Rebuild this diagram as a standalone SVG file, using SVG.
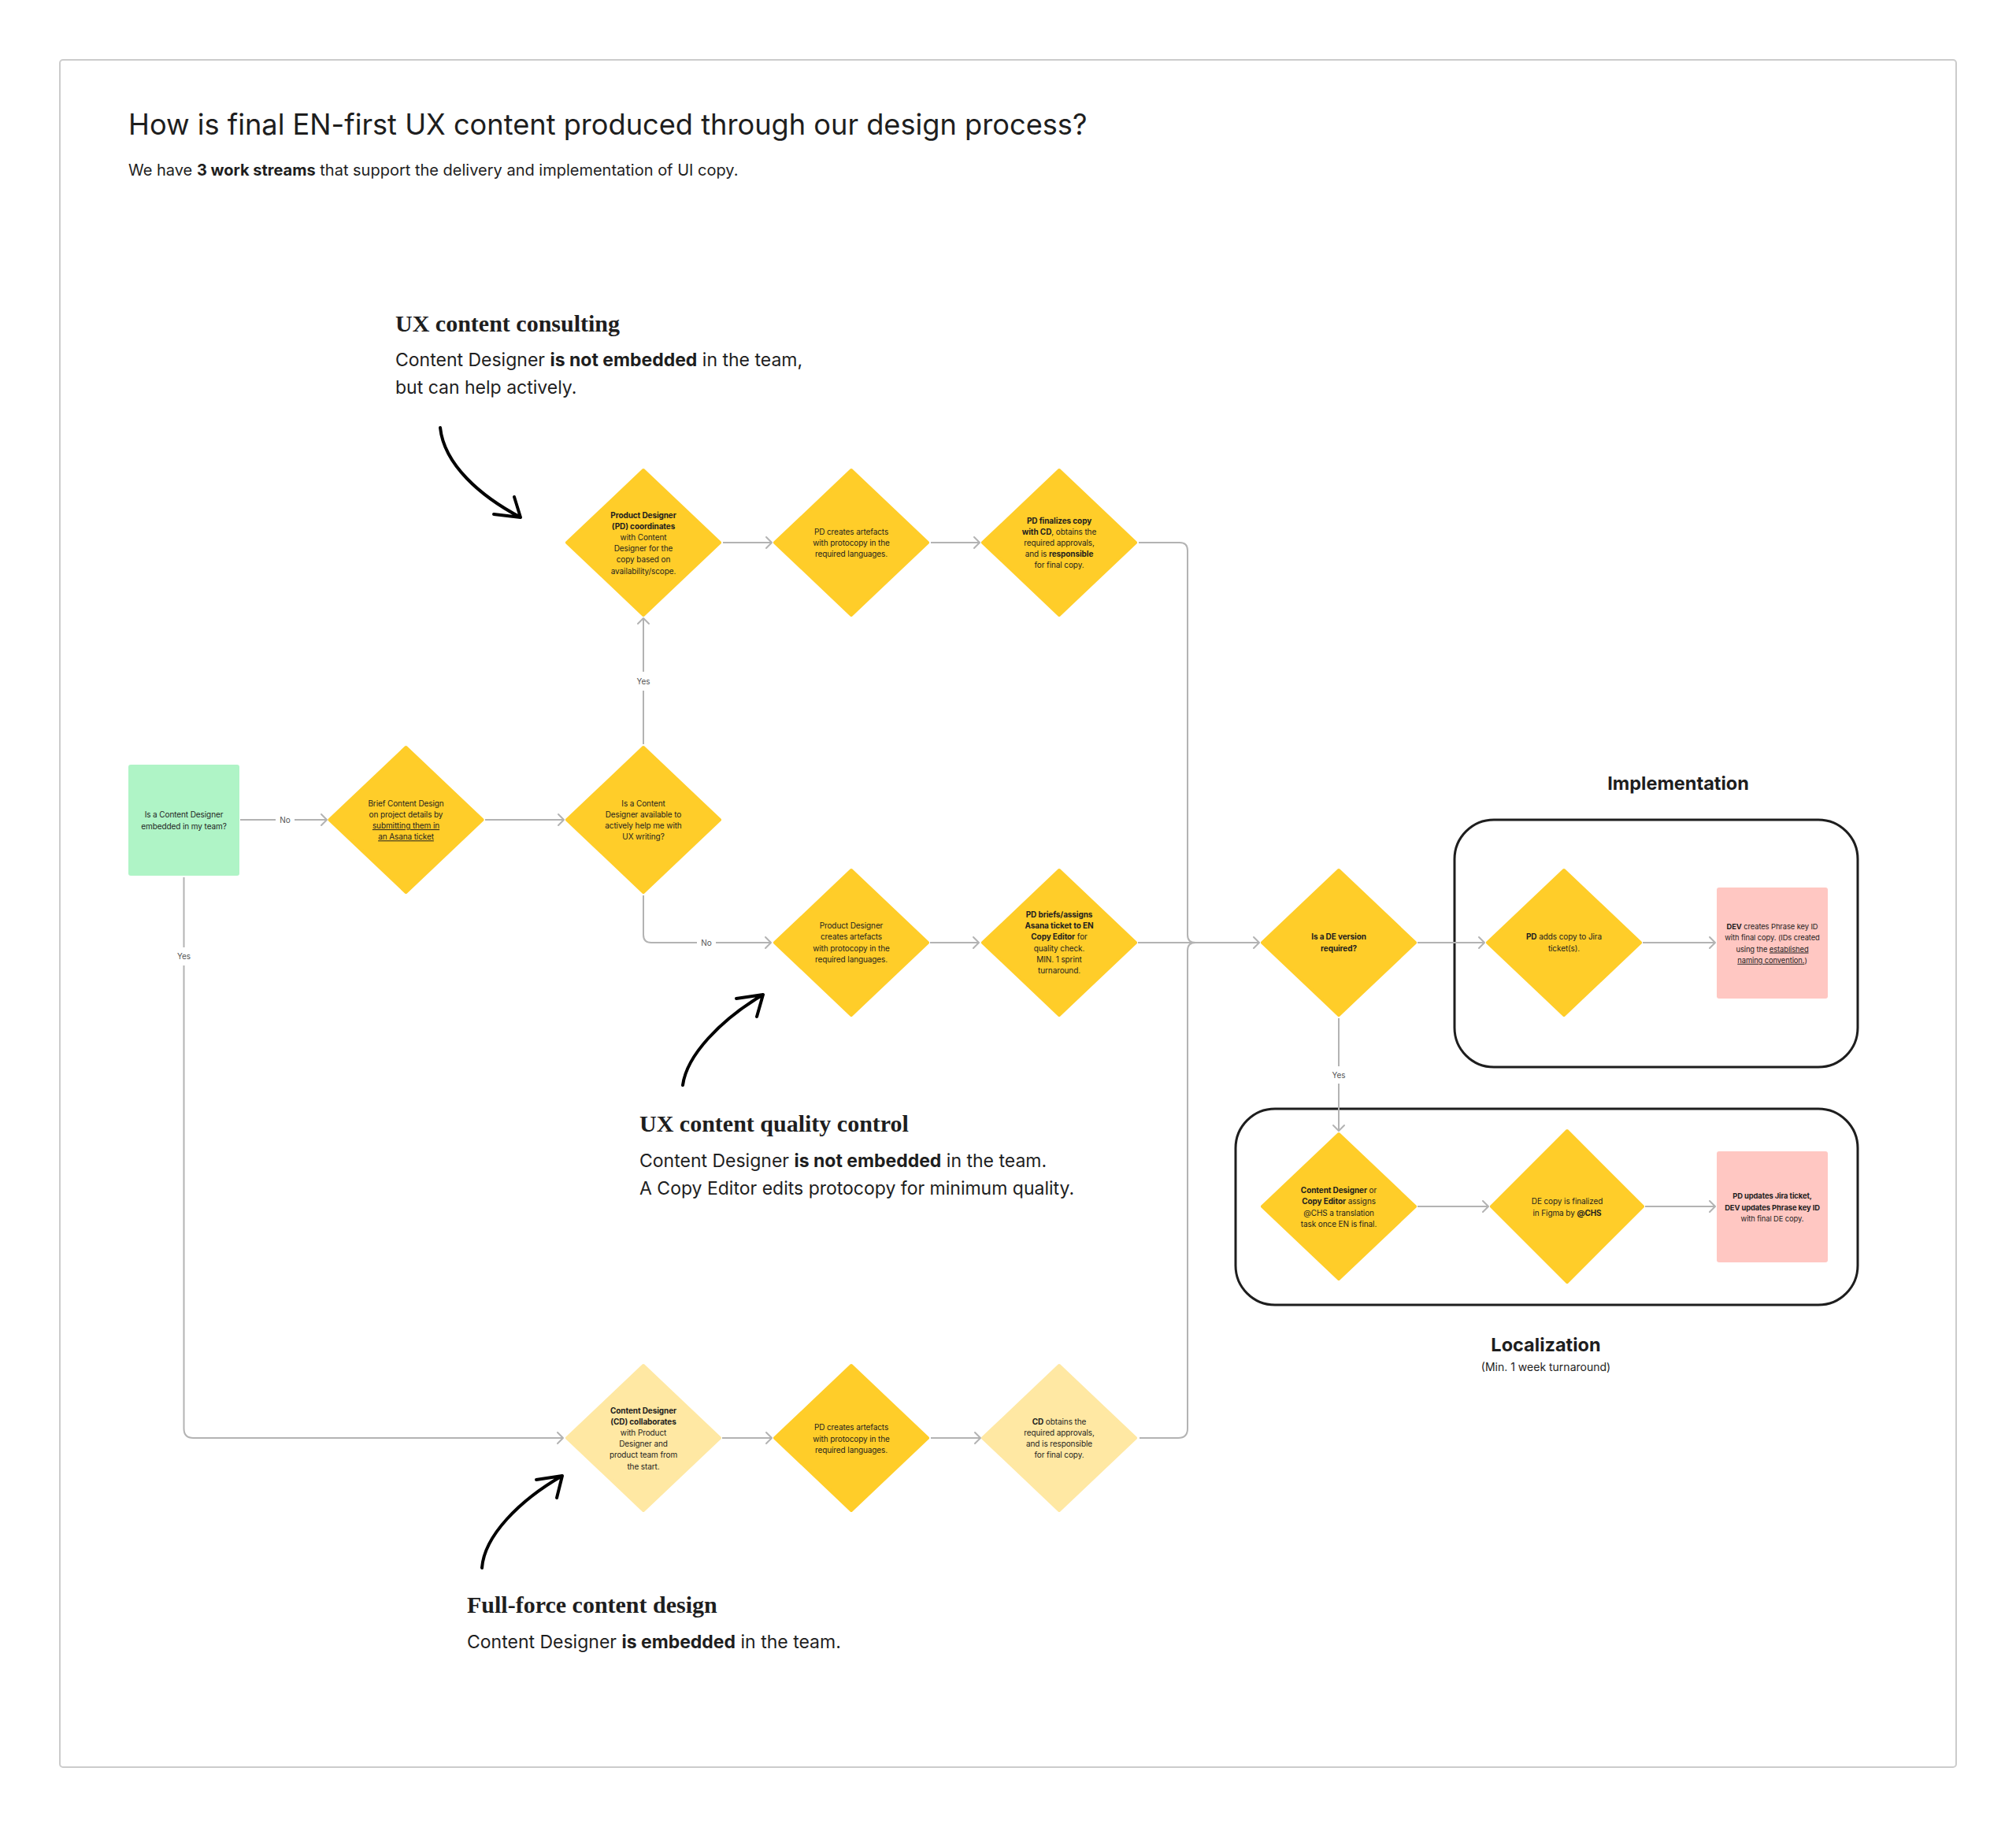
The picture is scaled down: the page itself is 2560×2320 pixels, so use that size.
<svg xmlns="http://www.w3.org/2000/svg" width="2560" height="2320" viewBox="0 0 2560 2320">
<style>
.y{fill:#FFCD29;stroke:#FFCD29;stroke-width:4;stroke-linejoin:round}
.ly{fill:#FFE8A3;stroke:#FFE8A3;stroke-width:4;stroke-linejoin:round}
.t{font-family:Inter,"Noto Sans","Liberation Sans",sans-serif;font-size:10px;letter-spacing:-0.1px;fill:#1E1E1E;text-anchor:middle}
.p{font-size:9.4px}
.b{font-weight:700}
.u{text-decoration:underline}
.c{fill:none;stroke:#B3B3B3;stroke-width:2}
.lbl{font-family:Inter,"Noto Sans","Liberation Sans",sans-serif;font-size:10px;fill:#555;text-anchor:middle}
.hand{fill:none;stroke:#000;stroke-width:4;stroke-linecap:round;stroke-linejoin:round}
.h{font-family:"Liberation Serif","DejaVu Serif",serif;font-weight:700;font-size:30px;fill:#1E1E1E}
.body{font-family:Inter,"Noto Sans","Liberation Sans",sans-serif;font-size:23px;fill:#1E1E1E}
.sec{font-family:Inter,"Noto Sans","Liberation Sans",sans-serif;font-size:23.5px;font-weight:700;fill:#1E1E1E;text-anchor:middle}
.box{fill:none;stroke:#1E1E1E;stroke-width:3}
</style>
<defs>
<polygon id="dia" points="0,-92 97,0 0,92 -97,0"/>
<polygon id="diaL" points="0,-96 96,0 0,96 -96,0"/>
<marker id="arr" viewBox="-10 -10 20 20" refX="0" refY="0" markerWidth="20" markerHeight="20" markerUnits="userSpaceOnUse" orient="auto">
<path d="M-7,-7 L0,0 L-7,7" fill="none" stroke="#B3B3B3" stroke-width="2" stroke-linecap="round" stroke-linejoin="round"/>
</marker>
</defs>
<rect x="0" y="0" width="2560" height="2320" fill="#FFFFFF"/>
<rect x="76" y="76" width="2408" height="2168" rx="4" fill="#FFFFFF" stroke="#CCCCCC" stroke-width="2"/>

<g id="header">
<text x="163" y="171" font-family="Inter,'Noto Sans','Liberation Sans',sans-serif" font-size="36.2" fill="#1E1E1E">How is final EN-first UX content produced through our design process?</text>
<text x="163" y="223" font-family="Inter,'Noto Sans','Liberation Sans',sans-serif" font-size="20" fill="#1E1E1E">We have <tspan font-weight="700">3 work streams</tspan> that support the delivery and implementation of UI copy.</text>
</g>

<g id="stream-consulting">
<text class="h" x="502" y="421">UX content consulting</text>
<text class="body" x="502" y="465">Content Designer <tspan font-weight="700">is not embedded</tspan> in the team,</text>
<text class="body" x="502" y="500">but can help actively.</text>
<path class="hand" d="M559,543 C564,590 610,630 661,657 M627,653 L661,657 L653,631"/>
</g>
<g id="stream-quality">
<text class="h" x="812" y="1437">UX content quality control</text>
<text class="body" x="812" y="1482">Content Designer <tspan font-weight="700">is not embedded</tspan> in the team.</text>
<text class="body" x="812" y="1517">A Copy Editor edits protocopy for minimum quality.</text>
<path class="hand" d="M867,1378 C872,1340 915,1295 969,1263 M935,1268 L969,1263 L961,1291"/>
</g>
<g id="stream-fullforce">
<text class="h" x="593" y="2048">Full-force content design</text>
<text class="body" x="593" y="2093">Content Designer <tspan font-weight="700">is embedded</tspan> in the team.</text>
<path class="hand" d="M612,1991 C615,1950 660,1905 714,1874 M681,1879 L714,1874 L707,1902"/>
</g>

<g id="implementation-group">
<text class="sec" x="2131" y="1003">Implementation</text>
<rect class="box" x="1847" y="1041" width="512" height="314" rx="50"/>
</g>
<g id="localization-group">
<rect class="box" x="1569" y="1408" width="790" height="249" rx="50"/>
<text class="sec" x="1963" y="1716">Localization</text>
<text x="1963" y="1741" font-family="Inter,'Noto Sans','Liberation Sans',sans-serif" font-size="14" fill="#1E1E1E" text-anchor="middle">(Min. 1 week turnaround)</text>
</g>

<g id="connectors">
<path class="c" d="M305,1041 H350"/>
<path class="c" d="M374,1041 H415" marker-end="url(#arr)"/>
<path class="c" d="M616,1041 H716" marker-end="url(#arr)"/>
<path class="c" d="M817,945 V877"/>
<path class="c" d="M817,853 V785" marker-end="url(#arr)"/>
<path class="c" d="M817,1137 V1187 Q817,1197 827,1197 H885"/>
<path class="c" d="M909,1197 H979" marker-end="url(#arr)"/>
<path class="c" d="M918,689 H980" marker-end="url(#arr)"/>
<path class="c" d="M1182,689 H1244" marker-end="url(#arr)"/>
<path class="c" d="M1446,689 H1498 Q1508,689 1508,699 V1187 Q1508,1197 1518,1197"/>
<path class="c" d="M1181,1197 H1243" marker-end="url(#arr)"/>
<path class="c" d="M1445,1197 H1599" marker-end="url(#arr)"/>
<path class="c" d="M233.5,1114 V1203"/>
<path class="c" d="M233.5,1226 V1814 Q233.5,1826 245.5,1826 H715" marker-end="url(#arr)"/>
<path class="c" d="M917,1826 H980" marker-end="url(#arr)"/>
<path class="c" d="M1182,1826 H1245" marker-end="url(#arr)"/>
<path class="c" d="M1447,1826 H1496 Q1508,1826 1508,1814 V1207 Q1508,1197 1518,1197"/>
<path class="c" d="M1800,1197 H1885" marker-end="url(#arr)"/>
<path class="c" d="M2086,1197 H2178" marker-end="url(#arr)"/>
<path class="c" d="M1700,1293 V1354"/>
<path class="c" d="M1700,1376 V1436" marker-end="url(#arr)"/>
<path class="c" d="M1800,1532 H1890" marker-end="url(#arr)"/>
<path class="c" d="M2089,1532 H2178" marker-end="url(#arr)"/>
<text class="lbl" x="362" y="1044.5">No</text>
<text class="lbl" x="817" y="868.5">Yes</text>
<text class="lbl" x="897" y="1200.5">No</text>
<text class="lbl" x="233.5" y="1217.5">Yes</text>
<text class="lbl" x="1700" y="1368.5">Yes</text>
</g>

<g id="n-embedded">
<rect x="163" y="971" width="141" height="141" rx="3" fill="#AFF4C6"/>
<text class="t" y="1038.4"><tspan x="233.5">Is a Content Designer</tspan><tspan x="233.5" dy="14.2">embedded in my team?</tspan></text>
</g>
<g id="n-brief">
<use href="#dia" x="515.5" y="1041" class="y"/>
<text class="t" y="1023.7"><tspan x="515.5">Brief Content Design</tspan><tspan x="515.5" dy="14.2">on project details by</tspan><tspan x="515.5" dy="14.2" class="u">submitting them in</tspan><tspan x="515.5" dy="14.2" class="u">an Asana ticket</tspan></text>
</g>
<g id="n-available">
<use href="#dia" x="817" y="1041" class="y"/>
<text class="t" y="1023.7"><tspan x="817">Is a Content</tspan><tspan x="817" dy="14.2">Designer available to</tspan><tspan x="817" dy="14.2">actively help me with</tspan><tspan x="817" dy="14.2">UX writing?</tspan></text>
</g>
<g id="n-pd-coordinates">
<use href="#dia" x="817" y="689" class="y"/>
<text class="t" y="657.5"><tspan x="817" class="b">Product Designer</tspan><tspan x="817" dy="14.2" class="b">(PD) coordinates</tspan><tspan x="817" dy="14.2">with Content</tspan><tspan x="817" dy="14.2">Designer for the</tspan><tspan x="817" dy="14.2">copy based on</tspan><tspan x="817" dy="14.2">availability/scope.</tspan></text>
</g>
<g id="n-pd-artefacts-1">
<use href="#dia" x="1081" y="689" class="y"/>
<text class="t" y="678.8"><tspan x="1081">PD creates artefacts</tspan><tspan x="1081" dy="14.2">with protocopy in the</tspan><tspan x="1081" dy="14.2">required languages.</tspan></text>
</g>
<g id="n-pd-finalizes">
<use href="#dia" x="1345" y="689" class="y"/>
<text class="t" y="664.6"><tspan x="1345" class="b">PD finalizes copy</tspan><tspan x="1345" dy="14.2"><tspan class="b">with CD</tspan>, obtains the</tspan><tspan x="1345" dy="14.2">required approvals,</tspan><tspan x="1345" dy="14.2">and is <tspan class="b">responsible</tspan></tspan><tspan x="1345" dy="14.2">for final copy.</tspan></text>
</g>
<g id="n-pd-artefacts-2">
<use href="#dia" x="1081" y="1197" class="y"/>
<text class="t" y="1179.2"><tspan x="1081">Product Designer</tspan><tspan x="1081" dy="14.2">creates artefacts</tspan><tspan x="1081" dy="14.2">with protocopy in the</tspan><tspan x="1081" dy="14.2">required languages.</tspan></text>
</g>
<g id="n-pd-briefs">
<use href="#dia" x="1345" y="1197" class="y"/>
<text class="t" y="1165"><tspan x="1345" class="b">PD briefs/assigns</tspan><tspan x="1345" dy="14.2" class="b">Asana ticket to EN</tspan><tspan x="1345" dy="14.2"><tspan class="b">Copy Editor</tspan> for</tspan><tspan x="1345" dy="14.2">quality check.</tspan><tspan x="1345" dy="14.2">MIN. 1 sprint</tspan><tspan x="1345" dy="14.2">turnaround.</tspan></text>
</g>
<g id="n-cd-collaborates">
<use href="#dia" x="817" y="1826" class="ly"/>
<text class="t" y="1794.5"><tspan x="817" class="b">Content Designer</tspan><tspan x="817" dy="14.2" class="b">(CD) collaborates</tspan><tspan x="817" dy="14.2">with Product</tspan><tspan x="817" dy="14.2">Designer and</tspan><tspan x="817" dy="14.2">product team from</tspan><tspan x="817" dy="14.2">the start.</tspan></text>
</g>
<g id="n-pd-artefacts-3">
<use href="#dia" x="1081" y="1826" class="y"/>
<text class="t" y="1816.3"><tspan x="1081">PD creates artefacts</tspan><tspan x="1081" dy="14.2">with protocopy in the</tspan><tspan x="1081" dy="14.2">required languages.</tspan></text>
</g>
<g id="n-cd-obtains">
<use href="#dia" x="1345" y="1826" class="ly"/>
<text class="t" y="1808.7"><tspan x="1345"><tspan class="b">CD</tspan> obtains the</tspan><tspan x="1345" dy="14.2">required approvals,</tspan><tspan x="1345" dy="14.2">and is responsible</tspan><tspan x="1345" dy="14.2">for final copy.</tspan></text>
</g>
<g id="n-de-required">
<use href="#dia" x="1700" y="1197" class="y"/>
<text class="t b" y="1193.4"><tspan x="1700">Is a DE version</tspan><tspan x="1700" dy="14.2">required?</tspan></text>
</g>
<g id="n-pd-jira">
<use href="#dia" x="1986" y="1197" class="y"/>
<text class="t" y="1193.4"><tspan x="1986"><tspan class="b">PD</tspan> adds copy to Jira</tspan><tspan x="1986" dy="14.2">ticket(s).</tspan></text>
</g>
<g id="n-dev-phrase">
<rect x="2180" y="1127" width="141" height="141" rx="3" fill="#FFC7C2"/>
<text class="t p" y="1180.2"><tspan x="2250.5"><tspan class="b">DEV</tspan> creates Phrase key ID</tspan><tspan x="2250.5" dy="14.2">with final copy. (IDs created</tspan><tspan x="2250.5" dy="14.2">using the <tspan class="u">established</tspan></tspan><tspan x="2250.5" dy="14.2"><tspan class="u">naming convention.</tspan>)</tspan></text>
</g>
<g id="n-cd-assigns">
<use href="#dia" x="1700" y="1532" class="y"/>
<text class="t" y="1515.2"><tspan x="1700"><tspan class="b">Content Designer</tspan> or</tspan><tspan x="1700" dy="14.2"><tspan class="b">Copy Editor</tspan> assigns</tspan><tspan x="1700" dy="14.2">@CHS a translation</tspan><tspan x="1700" dy="14.2">task once EN is final.</tspan></text>
</g>
<g id="n-de-finalized">
<use href="#diaL" x="1990" y="1532" class="y"/>
<text class="t" y="1529.4"><tspan x="1990">DE copy is finalized</tspan><tspan x="1990" dy="14.2">in Figma by <tspan class="b">@CHS</tspan></tspan></text>
</g>
<g id="n-pd-updates">
<rect x="2180" y="1462" width="141" height="141" rx="3" fill="#FFC7C2"/>
<text class="t p" y="1522.3"><tspan x="2250.5" class="b">PD updates Jira ticket,</tspan><tspan x="2250.5" dy="14.2" class="b">DEV updates Phrase key ID</tspan><tspan x="2250.5" dy="14.2">with final DE copy.</tspan></text>
</g>
</svg>
